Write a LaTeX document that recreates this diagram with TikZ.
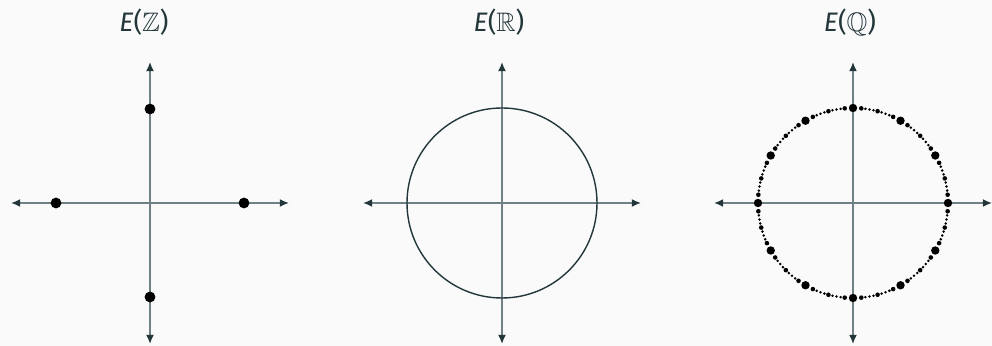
\documentclass[tikz,border=0pt]{standalone}
\usepackage{amssymb}
\usepackage{fontspec}
\setmainfont{Fira Sans}
\usetikzlibrary{arrows.meta,calc}
\definecolor{mteal}{HTML}{23373B}
\definecolor{axisgrey}{HTML}{6F8185}
\definecolor{slide}{HTML}{FAFAFA}
\tikzset{
  axis/.style    = {{Latex[length=2.3mm, width=2mm, color=mteal]}-{Latex[length=2.3mm, width=2mm, color=mteal]},
                    line width=1.1pt, draw=axisgrey},
  ring/.style    = {draw=mteal, line width=1pt},
  pt/.style      = {circle, fill=black, inner sep=0pt, minimum size=#1},
  ttl/.style     = {font=\fontsize{19}{23}\selectfont, text=mteal},
}

\begin{document}
\begin{tikzpicture}[x=0.025cm, y=0.025cm]
  \fill[slide] (0,0) rectangle (992,346);
  \useasboundingbox (0,0) rectangle (992,346);

  % one pair of axes per curve
  \foreach \p/\cx in {z/150, r/502, q/853} {
    \coordinate (\p O) at (\cx,143);
    \coordinate (\p L) at (\cx-139,143);
    \coordinate (\p R) at (\cx+139,143);
    \coordinate (\p T) at (\cx,284);
    \coordinate (\p B) at (\cx,2);
    \draw[axis] (\p L) -- (\p R);
    \draw[axis] (\p B) -- (\p T);
  }

  \node[ttl] (tZ) at (144,324) {\textit{E}($\mathbb{Z}$)};
  \node[ttl] (tR) at (499,324) {\textit{E}($\mathbb{R}$)};
  \node[ttl] (tQ) at (850,324) {\textit{E}($\mathbb{Q}$)};

  % integer points
  \foreach \a in {0,90,180,270}
    \node[pt=2.7mm] (z\a) at ($(zO)+(\a:94)$) {};

  % real points
  \draw[ring] (rO) circle[radius=95];

  % rational points
  \foreach \k in {0,...,11} {
    \node[pt=2.1mm] (q\k) at ($(qO)+(\k*30:95)$) {};
    \foreach \d [count=\j] in {5,15,25}
      \node[pt=1.15mm] (qm\k-\j) at ($(qO)+(\k*30+\d:95)$) {};
    \foreach \d [count=\j] in {7.5,10,12.5,17.5,20,22.5}
      \node[pt=0.7mm] (qs\k-\j) at ($(qO)+(\k*30+\d:95)$) {};
  }
\end{tikzpicture}
\end{document}
